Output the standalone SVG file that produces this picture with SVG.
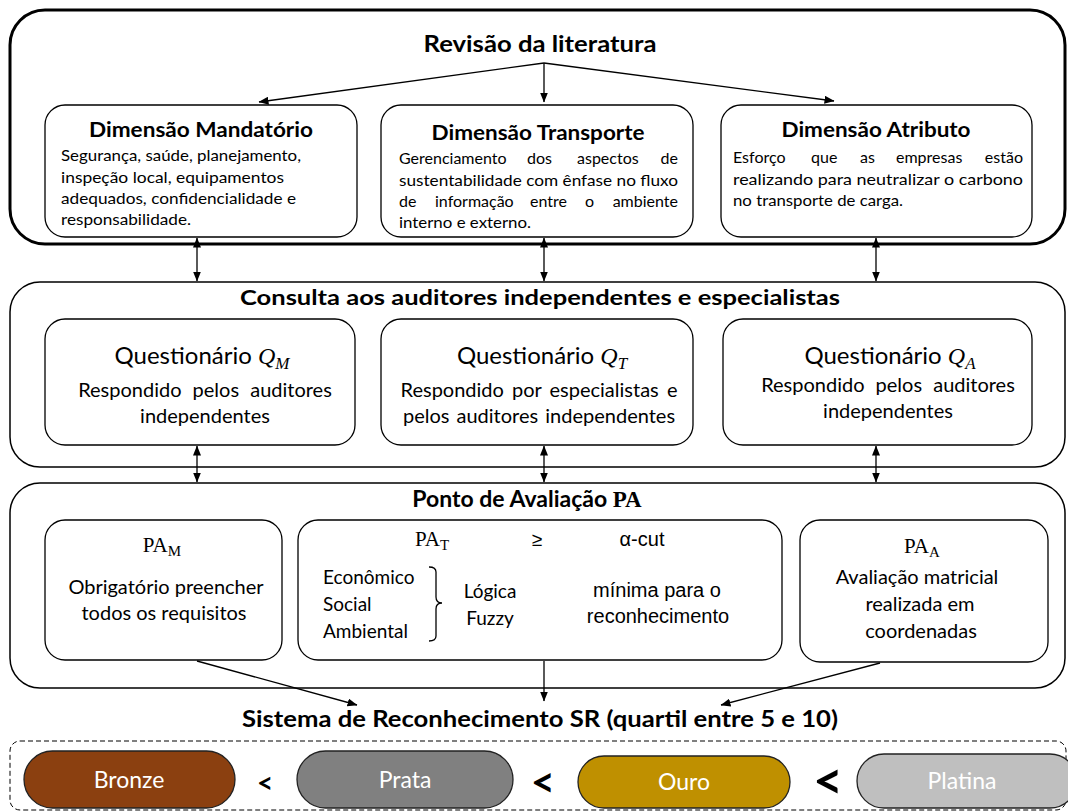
<svg xmlns="http://www.w3.org/2000/svg" width="1068" height="812" viewBox="0 0 1068 812">
<defs>
<marker id="ah" markerWidth="10" markerHeight="8" refX="9.5" refY="4" orient="auto-start-reverse" markerUnits="userSpaceOnUse"><path d="M0,0 L10,4 L0,8 Z" fill="#000"/></marker>
</defs>
<style>
.outer{fill:#fff;stroke:#000;stroke-width:1.5}
.box{fill:#fff;stroke:#000;stroke-width:1.3}
.t{font-family:Lato,"Liberation Sans",sans-serif;fill:#000}
.b{font-weight:bold}
.m{font-family:"Liberation Serif","DejaVu Serif",serif}
.a{font-family:"Liberation Sans",Arial,sans-serif}
.c{stroke:#000;stroke-width:1.3;fill:none}
.pill{stroke:#222;stroke-width:1.3}
.pt{font-family:Lato,"Liberation Sans",sans-serif;fill:#fff;font-size:23px;text-anchor:middle}
.lt{font-family:Lato,"Liberation Sans",sans-serif;font-weight:bold;fill:#000;text-anchor:middle}
</style>

<g id="revisao">
<rect x="10" y="10" width="1055" height="234" rx="35" fill="#fff" stroke="#000" stroke-width="3"/>
<text class="t b" x="540" y="52" font-size="23" text-anchor="middle" textLength="233" lengthAdjust="spacingAndGlyphs">Revisão da literatura</text>
</g>

<g id="dim-mandatorio">
<rect class="box" x="45" y="105" width="312" height="132" rx="20"/>
<text class="t b" x="201" y="137" font-size="20" text-anchor="middle" textLength="224" lengthAdjust="spacingAndGlyphs">Dimensão Mandatório</text>
<g class="t" font-size="16">
<text x="61" y="161" textLength="240" lengthAdjust="spacingAndGlyphs">Segurança, saúde, planejamento,</text>
<text x="61" y="183" textLength="223" lengthAdjust="spacingAndGlyphs">inspeção local, equipamentos</text>
<text x="61" y="204" textLength="235" lengthAdjust="spacingAndGlyphs">adequados, confidencialidade e</text>
<text x="61" y="225" textLength="130" lengthAdjust="spacingAndGlyphs">responsabilidade.</text>
</g>
</g>

<g id="dim-transporte">
<rect class="box" x="381" y="105" width="312" height="132" rx="20"/>
<text class="t b" x="538" y="140" font-size="20" text-anchor="middle" textLength="213" lengthAdjust="spacingAndGlyphs">Dimensão Transporte</text>
<g class="t" font-size="16">
<text y="164"><tspan x="399">Gerenciamento</tspan><tspan x="527">dos</tspan><tspan x="577">aspectos</tspan></text>
<text x="678" y="164" text-anchor="end">de</text>
<text x="399" y="186" textLength="279" lengthAdjust="spacingAndGlyphs">sustentabilidade com ênfase no fluxo</text>
<text y="207"><tspan x="399">de</tspan><tspan x="435">informação</tspan><tspan x="530">entre</tspan><tspan x="585">o</tspan></text>
<text x="678" y="207" text-anchor="end">ambiente</text>
<text x="399" y="228" textLength="132" lengthAdjust="spacingAndGlyphs">interno e externo.</text>
</g>
</g>

<g id="dim-atributo">
<rect class="box" x="721" y="105" width="311" height="132" rx="20"/>
<text class="t b" x="876" y="137" font-size="20" text-anchor="middle" textLength="189" lengthAdjust="spacingAndGlyphs">Dimensão Atributo</text>
<g class="t" font-size="16">
<text y="163"><tspan x="733">Esforço</tspan><tspan x="811">que</tspan><tspan x="860">as</tspan><tspan x="896">empresas</tspan></text>
<text x="1023" y="163" text-anchor="end">estão</text>
<text x="733" y="185" textLength="290" lengthAdjust="spacingAndGlyphs">realizando para neutralizar o carbono</text>
<text x="733" y="206" textLength="170" lengthAdjust="spacingAndGlyphs">no transporte de carga.</text>
</g>
</g>

<g id="consulta">
<rect class="outer" x="10" y="282" width="1055" height="185" rx="30"/>
<text class="t b" x="540" y="305" font-size="21" text-anchor="middle" textLength="600" lengthAdjust="spacingAndGlyphs">Consulta aos auditores independentes e especialistas</text>
</g>

<g id="q-m">
<rect class="box" x="45" y="319" width="310" height="126" rx="20"/>
<text x="202" y="364" text-anchor="middle" font-size="24"><tspan class="t">Questionário </tspan><tspan class="m" font-style="italic">Q</tspan><tspan class="m" font-style="italic" font-size="17" dy="5">M</tspan></text>
<text class="t" x="205" y="397" font-size="20" text-anchor="middle" word-spacing="6">Respondido pelos auditores</text>
<text class="t" x="205" y="423" font-size="20" text-anchor="middle">independentes</text>
</g>

<g id="q-t">
<rect class="box" x="381" y="319" width="312" height="126" rx="20"/>
<text x="542" y="364" text-anchor="middle" font-size="24"><tspan class="t">Questionário </tspan><tspan class="m" font-style="italic">Q</tspan><tspan class="m" font-style="italic" font-size="17" dy="5">T</tspan></text>
<text class="t" x="539" y="397" font-size="20" text-anchor="middle" word-spacing="3">Respondido por especialistas e</text>
<text class="t" x="539" y="423" font-size="20" text-anchor="middle" word-spacing="2">pelos auditores independentes</text>
</g>

<g id="q-a">
<rect class="box" x="723" y="319" width="309" height="126" rx="20"/>
<text x="890" y="364" text-anchor="middle" font-size="24"><tspan class="t">Questionário </tspan><tspan class="m" font-style="italic">Q</tspan><tspan class="m" font-style="italic" font-size="17" dy="5">A</tspan></text>
<text class="t" x="888" y="392" font-size="20" text-anchor="middle" word-spacing="6">Respondido pelos auditores</text>
<text class="t" x="888" y="418" font-size="20" text-anchor="middle">independentes</text>
</g>

<g id="ponto-avaliacao">
<rect class="outer" x="10" y="483" width="1055" height="205" rx="30"/>
<text x="527" y="507" text-anchor="middle" font-size="23"><tspan class="t b">Ponto de Avaliação </tspan><tspan class="m b">PA</tspan></text>
</g>

<g id="pa-m">
<rect class="box" x="45" y="520" width="237" height="140" rx="20"/>
<text class="m" x="162" y="552" font-size="21" text-anchor="middle">PA<tspan font-size="15" dy="4">M</tspan></text>
<text class="t" x="166" y="594" font-size="20" text-anchor="middle">Obrigatório preencher</text>
<text class="t" x="164" y="620" font-size="20" text-anchor="middle">todos os requisitos</text>
</g>

<g id="pa-t">
<rect class="box" x="298" y="520" width="484" height="140" rx="20"/>
<text class="m" x="432" y="546" font-size="21" text-anchor="middle">PA<tspan font-size="15" dy="4">T</tspan></text>
<text class="a" x="537" y="546" font-size="19" text-anchor="middle">≥</text>
<text class="a" x="642" y="546" font-size="20" text-anchor="middle">α-cut</text>
<g class="t" font-size="19">
<text x="323" y="584">Econômico</text>
<text x="323" y="611">Social</text>
<text x="323" y="638">Ambiental</text>
<text x="490" y="598" text-anchor="middle">Lógica</text>
<text x="490" y="625" text-anchor="middle">Fuzzy</text>
</g>
<path class="c" d="M429,567 Q436,567 436,572 L436,597 Q436,603 442,603 Q436,603 436,609 L436,636 Q436,641 429,641" stroke-width="1"/>
<text class="a" x="657" y="597" font-size="20" text-anchor="middle">mínima para o</text>
<text class="a" x="658" y="623" font-size="20" text-anchor="middle">reconhecimento</text>
</g>

<g id="pa-a">
<rect class="box" x="800" y="520" width="248" height="142" rx="20"/>
<text class="m" x="922" y="553" font-size="21" text-anchor="middle">PA<tspan font-size="15" dy="4">A</tspan></text>
<text class="t" x="917" y="584" font-size="20" text-anchor="middle">Avaliação matricial</text>
<text class="t" x="920" y="611" font-size="20" text-anchor="middle">realizada em</text>
<text class="t" x="921" y="638" font-size="20" text-anchor="middle">coordenadas</text>
</g>

<g id="sistema-reconhecimento">
<text class="t b" x="540" y="727" font-size="22" text-anchor="middle" textLength="596" lengthAdjust="spacingAndGlyphs">Sistema de Reconhecimento SR (quartil entre 5 e 10)</text>
<rect x="10" y="741" width="1056" height="69" rx="10" fill="none" stroke="#000" stroke-width="1" stroke-dasharray="5,3"/>
</g>

<g id="bronze">
<rect class="pill" x="24" y="751" width="211" height="57" rx="28.5" fill="#8B4010"/>
<text class="pt" x="129" y="788">Bronze</text>
</g>
<g id="prata">
<rect class="pill" x="297" y="751" width="216" height="57" rx="28.5" fill="#808080"/>
<text class="pt" x="405" y="788">Prata</text>
</g>
<g id="ouro">
<rect class="pill" x="578" y="756" width="212" height="52" rx="26" fill="#BF9000"/>
<text class="pt" x="684" y="790">Ouro</text>
</g>
<g id="platina">
<rect class="pill" x="857" y="754" width="220" height="54" rx="27" fill="#BFBFBF"/>
<text class="pt" x="962" y="789" fill="#F2F2F2">Platina</text>
</g>
<g id="less-than-signs">
<text class="lt" x="265" y="793" font-size="28">&lt;</text>
<text class="lt" x="543" y="797" font-size="42">&lt;</text>
<text class="lt" x="828" y="799" font-size="52">&lt;</text>
</g>

<g id="connectors" class="c" stroke-width="1.3">
<line x1="544" y1="63" x2="259" y2="102" marker-end="url(#ah)"/>
<line x1="544" y1="63" x2="544" y2="102" marker-end="url(#ah)"/>
<line x1="544" y1="63" x2="834" y2="101" marker-end="url(#ah)"/>
<line x1="197" y1="238" x2="197" y2="281" marker-start="url(#ah)" marker-end="url(#ah)"/>
<line x1="544" y1="238" x2="544" y2="281" marker-start="url(#ah)" marker-end="url(#ah)"/>
<line x1="876" y1="238" x2="876" y2="281" marker-start="url(#ah)" marker-end="url(#ah)"/>
<line x1="197" y1="446" x2="197" y2="482" marker-start="url(#ah)" marker-end="url(#ah)"/>
<line x1="544" y1="446" x2="544" y2="482" marker-start="url(#ah)" marker-end="url(#ah)"/>
<line x1="876" y1="446" x2="876" y2="482" marker-start="url(#ah)" marker-end="url(#ah)"/>
<line x1="197" y1="661" x2="357" y2="705" marker-end="url(#ah)"/>
<line x1="544" y1="661" x2="544" y2="701" marker-end="url(#ah)"/>
<line x1="880" y1="663" x2="721" y2="705" marker-end="url(#ah)"/>
</g>
</svg>
